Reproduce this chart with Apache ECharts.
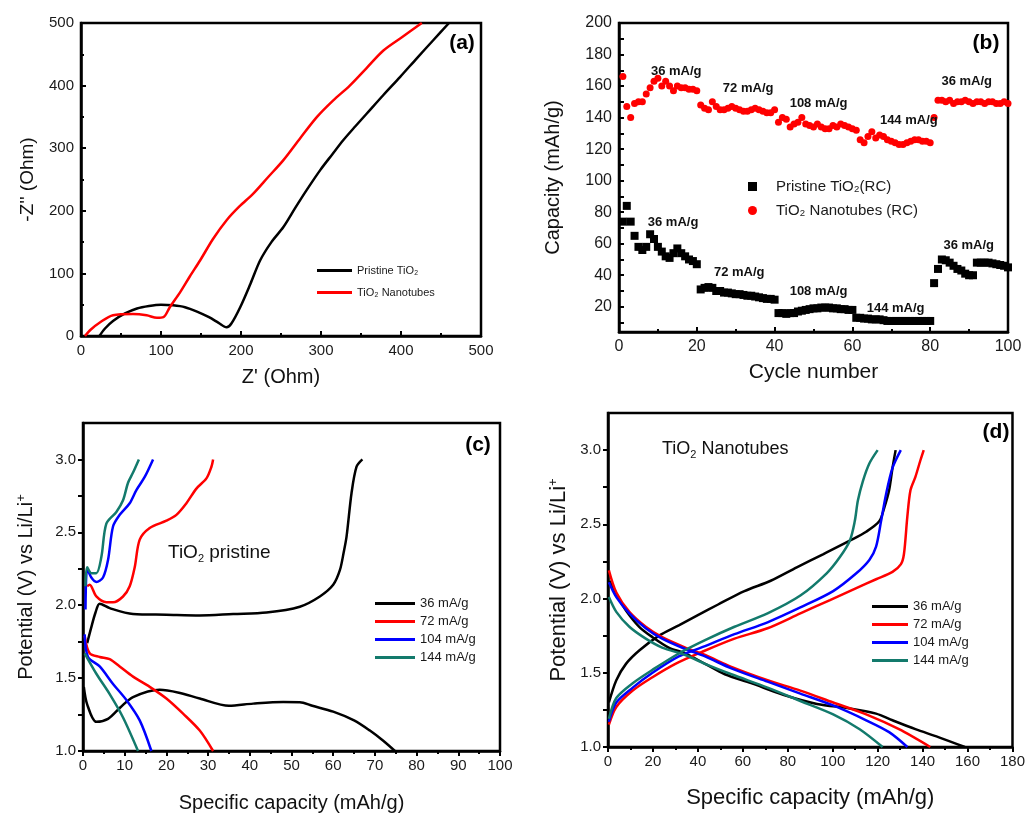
<!DOCTYPE html>
<html>
<head>
<meta charset="utf-8">
<script src="https://cdn.jsdelivr.net/npm/echarts@6/dist/echarts.min.js"></script>
<style>
html,body{margin:0;padding:0;background:#fff}
#main{width:1028px;height:818px}
</style>
</head>
<body>
<div id="main"></div>
<script>
// ---- (a) impedance, [Z', -Z''] ----
var aPristine = [[23,0],[30,12],[40,24],[55,36],[70,44],[85,48],[100,50],[115,49],[130,46],[145,39],[160,30],[172,21],[182,14],[188,20],[199,46],[212,84],[224,121],[238,150],[253,174],[268,205],[282,233],[299,265],[314,290],[328,313],[343,335],[357,355],[378,385],[399,414],[420,444],[440,472],[460,500]];
var aNanotubes = [[5,0],[12,10],[24,22],[40,33],[65,35],[82,33],[95,29],[103,30],[111,46],[124,70],[136,95],[149,121],[165,155],[182,185],[198,207],[215,227],[234,254],[253,281],[274,316],[295,350],[315,376],[336,400],[357,428],[378,456],[402,478],[426,500]];

// ---- (b) rate capability, one value per cycle (1..100) ----
var bPristine = [74,84,74,65,58,56,58,66,63,58,55,52,51,54,57,54,52,50,49,47,
  31,32,32.5,32,30,30,29,29,28.5,28,28,27.5,27,27,26.5,26,25.5,25,25,24.5,
  16,16,15.5,16,16,17,17.5,18,18.5,19,19,19.5,19.5,19.5,19,19,18.5,18.5,18,18,
  13,13,12.5,12.5,12,12,12,11.5,11,11,11,11,11,11,11,11,11,11,11,11,
  35,44,50,49.5,48,46,44,43,41,40,40,48,48,48,48,47.5,47,46.5,46,45];
var bNanotubes = [166,147,140,149,150,150,155,159,163,165,160,163,160,157,160,159,159,158,158,157,
  148,146,145,150,147,145,145,146,147,146,145,144,144,145,146,145,144,143,143,145,
  137,140,139,134,136,137,140,136,135,134,136,134,133,133,135,134,136,135,134,133,
  132,126,124,128,131,127,129,128,126,125,124,123,123,124,125,126,126,125,125,124,
  140,151,151,150,151,149,150,150,151,150,149,150,150,149,150,150,149,149,150,149];
var bNotes = [[14.7,169.6,'36 mA/g'],[33.2,158.8,'72 mA/g'],[51.3,148.7,'108 mA/g'],[74.5,138.5,'144 mA/g'],[89.4,163.2,'36 mA/g'],
  [13.9,73.3,'36 mA/g'],[30.9,41.6,'72 mA/g'],[51.3,29.5,'108 mA/g'],[71.1,18.8,'144 mA/g'],[89.9,58.7,'36 mA/g']];
var bYLabels = [20,40,60,80,100,120,140,160,180,200];
var bYTicks = [10,20,30,40,50,60,70,80,90,100,110,120,130,140,150,160,170,180,190,200];

// ---- (c) pristine TiO2, [capacity, potential] ----
var rates = ['36 mA/g','72 mA/g','104 mA/g','144 mA/g'];
var c36Dis = [[0.2,1.44],[1,1.32],[3.2,1.2],[6,1.22],[9,1.3],[12,1.37],[18.4,1.42],[23,1.4],[28,1.36],[35,1.31],[40.8,1.325],[48,1.336],[52,1.335],[55,1.31],[60,1.27],[65,1.21],[68.8,1.14],[72,1.07],[74.8,1.0]];
var c36Chg = [[1,1.74],[2,1.85],[3,1.95],[4,2.01],[6.4,1.98],[12,1.94],[20,1.935],[28,1.93],[36,1.94],[44,1.95],[52,1.99],[56.8,2.06],[60,2.14],[61.6,2.24],[62.5,2.36],[63.2,2.47],[64.4,2.77],[65.6,2.95],[67,3.0]];
var c72Dis = [[0.4,1.79],[1.6,1.67],[4,1.645],[6.4,1.63],[8.8,1.58],[12,1.51],[16,1.44],[20,1.36],[24,1.256],[28,1.14],[31.2,1.0]];
var c72Chg = [[1,2.13],[1.6,2.14],[3.2,2.06],[5.6,2.02],[7.2,2.02],[9.6,2.06],[11.2,2.13],[12.4,2.26],[13.6,2.45],[16,2.53],[20,2.58],[22.4,2.62],[24.8,2.7],[27.2,2.8],[29.6,2.87],[30.8,2.95],[31.2,3.0]];
var c104Dis = [[0.4,1.8],[1.2,1.645],[4,1.58],[7.2,1.46],[10.4,1.35],[13.6,1.21],[16.4,1.0]];
var c104Chg = [[0.6,1.97],[1,2.25],[2,2.19],[3.2,2.16],[4.8,2.19],[6,2.31],[7.2,2.54],[8.8,2.62],[11.2,2.7],[12.8,2.79],[14.8,2.88],[16.8,3.0]];
var c144Dis = [[0.4,1.67],[3.2,1.53],[6.4,1.39],[9.6,1.23],[13.2,1.0]];
var c144Chg = [[0.6,2.13],[1,2.26],[2,2.22],[3.2,2.22],[4.4,2.33],[5.6,2.56],[8,2.64],[9.6,2.72],[10.8,2.84],[12,2.91],[13.4,3.0]];

// ---- (d) TiO2 nanotubes ----
var d36Dis = [[0.7,2.12],[3.7,2.03],[8,1.92],[13.9,1.81],[19.8,1.74],[27,1.67],[34.4,1.63],[43.2,1.56],[52,1.49],[63.7,1.43],[78.3,1.35],[93,1.29],[107.6,1.26],[119.3,1.225],[126.6,1.18],[136.8,1.12],[147,1.067],[158.8,1.0]];
var d36Chg = [[0.4,1.3],[3.7,1.45],[8,1.56],[13.9,1.65],[22.7,1.75],[31.5,1.82],[40.2,1.89],[49,1.96],[60.7,2.05],[72.4,2.12],[84,2.21],[95.9,2.3],[107.6,2.39],[114.9,2.45],[120.7,2.52],[122.9,2.61],[125.1,2.73],[126.6,2.88],[128,3.0]];
var d72Dis = [[0.4,2.19],[3.7,2.04],[9.5,1.91],[16.8,1.81],[24.1,1.74],[34.4,1.67],[43.2,1.62],[54.9,1.54],[71,1.45],[85.6,1.38],[100.2,1.3],[114.9,1.22],[129.5,1.12],[143.4,1.0]];
var d72Chg = [[0.4,1.15],[3.7,1.27],[11,1.38],[19.8,1.47],[30,1.56],[41.7,1.64],[56.3,1.73],[71,1.8],[85.6,1.9],[98.8,1.99],[110.5,2.07],[119.3,2.13],[126.6,2.18],[130.3,2.23],[131.7,2.3],[133.2,2.55],[134.6,2.73],[136.8,2.82],[139,2.93],[140.5,3.0]];
var d104Dis = [[0.4,2.11],[3.7,2.01],[9.5,1.9],[16.8,1.8],[24.1,1.73],[34.4,1.66],[43.2,1.61],[54.9,1.53],[71,1.44],[85.6,1.36],[100.2,1.28],[114.9,1.18],[125.1,1.1],[133.2,1.0]];
var d104Chg = [[0.4,1.17],[3.7,1.3],[11,1.4],[19.8,1.5],[31.5,1.61],[43.2,1.68],[56.3,1.76],[71,1.84],[85.6,1.94],[100.2,2.05],[110.5,2.17],[116.3,2.26],[119.3,2.35],[121.5,2.52],[123.7,2.7],[126.6,2.88],[130.3,3.0]];
var d144Dis = [[0.4,2.01],[3.7,1.91],[9.5,1.81],[16.8,1.73],[24.1,1.67],[34.4,1.62],[43.2,1.56],[54.9,1.49],[71,1.4],[85.6,1.31],[100.2,1.22],[112,1.12],[122.2,1.0]];
var d144Chg = [[0.4,1.19],[3.7,1.33],[11,1.43],[19.8,1.52],[31.5,1.63],[43.2,1.72],[56.3,1.81],[71,1.9],[85.6,2.02],[97.3,2.17],[103.2,2.28],[107.6,2.39],[109.8,2.52],[111.2,2.66],[113.4,2.79],[116.3,2.91],[120,3.0]];

var vLabels = [1.0,1.5,2.0,2.5,3.0];
var vTicks = [1.0,1.25,1.5,1.75,2.0,2.25,2.5,2.75,3.0];

var FONT = 'Liberation Sans, Arial, sans-serif';
var TXT = '#1a1a1a';
var rateColors = ['#000000','#ff0000','#0000ff','#137a6c'];

var chart = echarts.init(document.getElementById('main'));

function axisBase(inside) {
    return {
        axisLine: {lineStyle: {color: '#000', width: 2.5}},
        axisTick: {show: true, inside: inside, length: 5, lineStyle: {color: '#000', width: 2}},
        minorTick: {show: true, splitNumber: 2, length: 3, lineStyle: {color: '#000', width: 2}},
        splitLine: {show: false},
        axisLabel: {color: TXT, fontSize: 15, fontFamily: FONT, margin: 7},
        nameLocation: 'middle',
        nameTextStyle: {color: '#111', fontSize: 20, fontFamily: FONT}
    };
}
function ax(inside, extra) {
    var o = axisBase(inside);
    for (var k in extra) {
        if (typeof extra[k] === 'object' && o[k] && !Array.isArray(extra[k])) {
            o[k] = Object.assign({}, o[k], extra[k]);
        } else {
            o[k] = extra[k];
        }
    }
    return o;
}
var supRich = {sup: {fontSize: 13, fontFamily: FONT, color: '#111', verticalAlign: 'top', padding: [0, 0, 10, 0]}};

function lineSeries(name, data, color, xi) {
    return {
        name: name, type: 'line', xAxisIndex: xi, yAxisIndex: xi, data: data,
        showSymbol: false, smooth: 0.3, lineStyle: {color: color, width: 2.5},
        itemStyle: {color: color}, silent: true, animation: false
    };
}

var series = [
    lineSeries('Pristine TiO₂', aPristine, '#000', 0),
    lineSeries('TiO₂ Nanotubes', aNanotubes, '#ff0000', 0),
    {
        name: 'Pristine TiO₂(RC)', type: 'scatter', xAxisIndex: 1, yAxisIndex: 1,
        symbol: 'rect', symbolSize: 8, itemStyle: {color: '#000', opacity: 1},
        data: bPristine.map(function (v, i) { return [i + 1, v]; })
    },
    {
        name: 'TiO₂ Nanotubes (RC)', type: 'scatter', xAxisIndex: 1, yAxisIndex: 1,
        symbol: 'circle', symbolSize: 7, itemStyle: {color: '#ff0000', opacity: 1},
        data: bNanotubes.map(function (v, i) { return [i + 1, v]; })
    },
    {
        type: 'scatter', xAxisIndex: 1, yAxisIndex: 1, symbolSize: 0, silent: true,
        itemStyle: {opacity: 1},
        data: bNotes.map(function (n) { return {value: [n[0], n[1]], name: n[2]}; }),
        label: {show: true, position: 'inside', formatter: '{b}', color: '#111', opacity: 1,
                textBorderWidth: 0, fontSize: 13, fontWeight: 'bold', fontFamily: FONT}
    }
];
var cSets = [[c36Dis, c36Chg], [c72Dis, c72Chg], [c104Dis, c104Chg], [c144Dis, c144Chg]];
var dSets = [[d36Dis, d36Chg], [d72Dis, d72Chg], [d104Dis, d104Chg], [d144Dis, d144Chg]];
rates.forEach(function (r, i) {
    series.push(lineSeries(r, cSets[i][0], rateColors[i], 2));
    series.push(lineSeries(r, cSets[i][1], rateColors[i], 2));
    series.push(lineSeries(r, dSets[i][0], rateColors[i], 3));
    series.push(lineSeries(r, dSets[i][1], rateColors[i], 3));
});

var option = {
    animation: false,
    backgroundColor: '#fff',
    grid: [
        {left: 81, top: 23, width: 400, height: 313},
        {left: 619, top: 23, width: 389, height: 309},
        {left: 83, top: 423, width: 417, height: 328},
        {left: 608, top: 413, width: 410, height: 334}
    ].map(function (g) {
        return Object.assign(g, {show: true, borderColor: '#000', borderWidth: 2.5, backgroundColor: 'transparent'});
    }),
    xAxis: [
        ax(true, {type: 'value', gridIndex: 0, min: 0, max: 500, interval: 100, name: "Z' (Ohm)", nameGap: 31}),
        ax(true, {type: 'value', gridIndex: 1, min: 0, max: 100, interval: 20, name: 'Cycle number', nameGap: 30,
            axisLabel: {fontSize: 16}, nameTextStyle: {fontSize: 21}}),
        ax(false, {type: 'value', gridIndex: 2, min: 0, max: 100, interval: 10, name: 'Specific capacity (mAh/g)', nameGap: 42}),
        ax(false, {type: 'value', gridIndex: 3, min: 0, max: 180, interval: 20, name: 'Specific capacity (mAh/g)', nameGap: 40,
            nameTextStyle: {fontSize: 22}})
    ],
    yAxis: [
        ax(true, {type: 'value', gridIndex: 0, min: 0, max: 500, interval: 100, name: "-Z'' (Ohm)", nameGap: 44,
            nameTextStyle: {fontSize: 19}}),
        ax(true, {type: 'value', gridIndex: 1, min: 4, max: 200, name: 'Capacity (mAh/g)', nameGap: 56,
            axisLabel: {fontSize: 16, customValues: bYLabels},
            axisTick: {customValues: bYTicks}, minorTick: {show: false}}),
        ax(false, {type: 'value', gridIndex: 2, min: 1.0, max: 3.25, name: 'Potential (V) vs Li/Li{sup|+}', nameGap: 45,
            axisLabel: {customValues: vLabels, formatter: function (v) { return v.toFixed(1); }},
            axisTick: {customValues: vTicks}, minorTick: {show: false},
            nameTextStyle: {fontSize: 20, rich: supRich}}),
        ax(false, {type: 'value', gridIndex: 3, min: 1.0, max: 3.25, name: 'Potential (V) vs Li/Li{sup|+}', nameGap: 38,
            axisLabel: {customValues: vLabels, formatter: function (v) { return v.toFixed(1); }},
            axisTick: {customValues: vTicks}, minorTick: {show: false},
            nameTextStyle: {fontSize: 22, rich: supRich}})
    ],
    legend: [
        {data: ['Pristine TiO₂', 'TiO₂ Nanotubes'], left: 312, top: 260, orient: 'vertical',
         icon: 'rect', itemWidth: 35, itemHeight: 3, itemGap: 11,
         textStyle: {fontSize: 11, color: TXT, fontFamily: FONT}},
        {data: ['Pristine TiO₂(RC)', 'TiO₂ Nanotubes (RC)'], left: 743, top: 174, orient: 'vertical',
         itemWidth: 9, itemHeight: 9, itemGap: 9,
         textStyle: {fontSize: 15, color: TXT, fontFamily: FONT, padding: [0, 0, 0, 14]}},
        {data: rates, left: 370, top: 592, orient: 'vertical',
         icon: 'rect', itemWidth: 40, itemHeight: 3, itemGap: 5,
         textStyle: {fontSize: 13, color: TXT, fontFamily: FONT}},
        {data: rates, left: 867, top: 595, orient: 'vertical',
         icon: 'rect', itemWidth: 36, itemHeight: 3, itemGap: 5,
         textStyle: {fontSize: 13, color: TXT, fontFamily: FONT}}
    ],
    graphic: [
        {type: 'text', x: 462, y: 43, style: {text: '(a)', fill: '#000', fontSize: 21, fontWeight: 'bold', fontFamily: FONT, align: 'center', verticalAlign: 'middle'}},
        {type: 'text', x: 986, y: 43, style: {text: '(b)', fill: '#000', fontSize: 21, fontWeight: 'bold', fontFamily: FONT, align: 'center', verticalAlign: 'middle'}},
        {type: 'text', x: 478, y: 445, style: {text: '(c)', fill: '#000', fontSize: 21, fontWeight: 'bold', fontFamily: FONT, align: 'center', verticalAlign: 'middle'}},
        {type: 'text', x: 996, y: 432, style: {text: '(d)', fill: '#000', fontSize: 21, fontWeight: 'bold', fontFamily: FONT, align: 'center', verticalAlign: 'middle'}},
        {type: 'text', x: 168, y: 553, style: {text: 'TiO{sub|2} pristine', fill: '#111', fontSize: 19, fontFamily: FONT, verticalAlign: 'middle',
            rich: {sub: {fontSize: 11, fill: '#111', fontFamily: FONT, padding: [12, 0, 0, 0]}}}},
        {type: 'text', x: 662, y: 449, style: {text: 'TiO{sub|2} Nanotubes', fill: '#111', fontSize: 18, fontFamily: FONT, verticalAlign: 'middle',
            rich: {sub: {fontSize: 11, fill: '#111', fontFamily: FONT, padding: [12, 0, 0, 0]}}}}
    ],
    series: series
};
chart.setOption(option);
</script>
</body>
</html>
